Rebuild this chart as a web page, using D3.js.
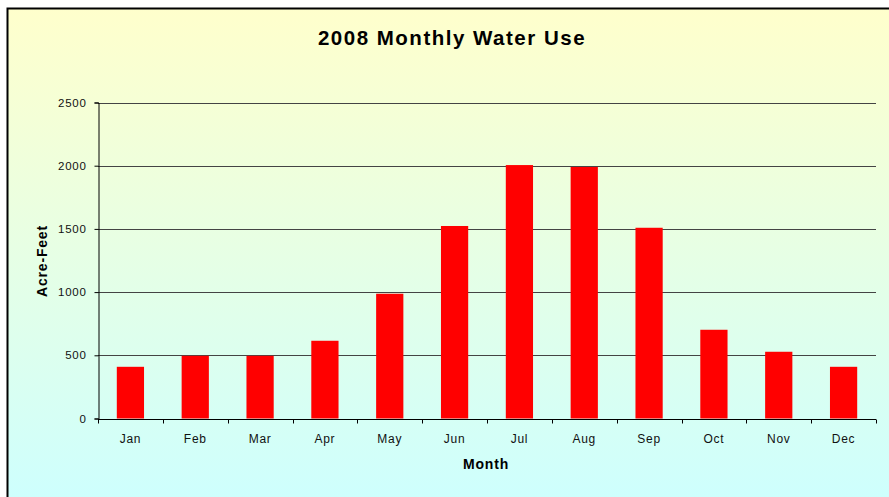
<!DOCTYPE html>
<html>
<head>
<meta charset="utf-8">
<script src="https://cdn.jsdelivr.net/npm/d3@7"></script>
<style>
  body { margin: 0; background: #fff; }
  svg { display: block; font-family: "Liberation Sans", Arial, sans-serif; }
</style>
</head>
<body>
<svg width="889" height="497"></svg>
<script>
// Data
const months = ["Jan", "Feb", "Mar", "Apr", "May", "Jun", "Jul", "Aug", "Sep", "Oct", "Nov", "Dec"];
const acreFeet = [409, 496, 496, 615, 987, 1523, 2005, 1990, 1509, 702, 528, 409];
const yTicks = [0, 500, 1000, 1500, 2000, 2500];

const svg = d3.select("svg"),
    width = +svg.attr("width"),
    height = +svg.attr("height");

const margin = { left: 98, right: 13, top: 102.5, bottom: 78.5 };
const plotW = width - margin.left - margin.right,
    plotH = height - margin.top - margin.bottom;

// background gradient (yellow to cyan)
const grad = svg.append("defs").append("linearGradient")
    .attr("id", "bg")
    .attr("x1", 0).attr("y1", 0).attr("x2", 0).attr("y2", 1);
grad.append("stop").attr("offset", "0%").attr("stop-color", "#ffffcc");
grad.append("stop").attr("offset", "100%").attr("stop-color", "#ccffff");

svg.append("rect")
    .attr("x", 7.5).attr("y", 8.5)
    .attr("width", width + 10).attr("height", height + 10)
    .attr("fill", "url(#bg)")
    .attr("stroke", "#000")
    .attr("stroke-width", 2);

const x = d3.scaleBand()
    .domain(months)
    .range([margin.left, margin.left + plotW])
    .paddingInner(0.58)
    .paddingOuter(0.29);

const y = d3.scaleLinear()
    .domain([0, 2500])
    .range([margin.top + plotH, margin.top]);

// gridlines
svg.append("g")
    .selectAll("line")
    .data(yTicks.filter(d => d > 0))
    .join("line")
    .attr("x1", margin.left)
    .attr("x2", margin.left + plotW)
    .attr("y1", d => Math.round(y(d)) + 0.5)
    .attr("y2", d => Math.round(y(d)) + 0.5)
    .attr("stroke", "#444")
    .attr("stroke-width", 1);

// bars
svg.append("g")
    .selectAll("rect")
    .data(months)
    .join("rect")
    .attr("x", d => x(d))
    .attr("width", x.bandwidth())
    .attr("y", (d, i) => y(acreFeet[i]))
    .attr("height", (d, i) => y(0) - y(acreFeet[i]))
    .attr("fill", "#ff0000");

// y axis
const yAxis = svg.append("g")
    .attr("transform", `translate(${margin.left + 0.5},0)`)
    .call(d3.axisLeft(y).tickValues(yTicks).tickSize(4).tickPadding(8).tickFormat(d3.format("d")));

// x axis: ticks at band boundaries
const xAxis = svg.append("g")
    .attr("transform", `translate(0,${Math.round(y(0)) + 0.5})`);
xAxis.append("line")
    .attr("x1", margin.left).attr("x2", margin.left + plotW)
    .attr("stroke", "#000");
xAxis.selectAll(".tk")
    .data(d3.range(months.length + 1))
    .join("line")
    .attr("class", "tk")
    .attr("x1", i => Math.round(margin.left + i * plotW / months.length) + 0.5)
    .attr("x2", i => Math.round(margin.left + i * plotW / months.length) + 0.5)
    .attr("y1", 0).attr("y2", 4)
    .attr("stroke", "#000");
xAxis.selectAll("text")
    .data(months)
    .join("text")
    .attr("x", d => x(d) + x.bandwidth() / 2)
    .attr("y", 23)
    .attr("text-anchor", "middle")
    .attr("font-size", 12)
    .attr("letter-spacing", 0.7)
    .attr("fill", "#111")
    .text(d => d);

yAxis.select(".domain").attr("stroke", "#000");
yAxis.selectAll(".tick line").attr("stroke", "#000");
yAxis.selectAll(".tick text")
    .attr("font-size", 11.5)
    .attr("letter-spacing", 0.7)
    .attr("fill", "#111")
    .attr("font-family", "Liberation Sans, Arial, sans-serif");

// title & axis labels
svg.append("text")
    .attr("x", 452)
    .attr("y", 45)
    .attr("text-anchor", "middle")
    .attr("font-size", 20.5)
    .attr("letter-spacing", 1.5)
    .attr("font-weight", "bold")
    .attr("fill", "#000")
    .text("2008 Monthly Water Use");

svg.append("text")
    .attr("x", 486)
    .attr("y", 469)
    .attr("text-anchor", "middle")
    .attr("font-size", 14)
    .attr("letter-spacing", 0.8)
    .attr("font-weight", "bold")
    .text("Month");

svg.append("text")
    .attr("transform", "translate(47,261) rotate(-90)")
    .attr("text-anchor", "middle")
    .attr("font-size", 14)
    .attr("letter-spacing", 0.8)
    .attr("font-weight", "bold")
    .text("Acre-Feet");
</script>
</body>
</html>
